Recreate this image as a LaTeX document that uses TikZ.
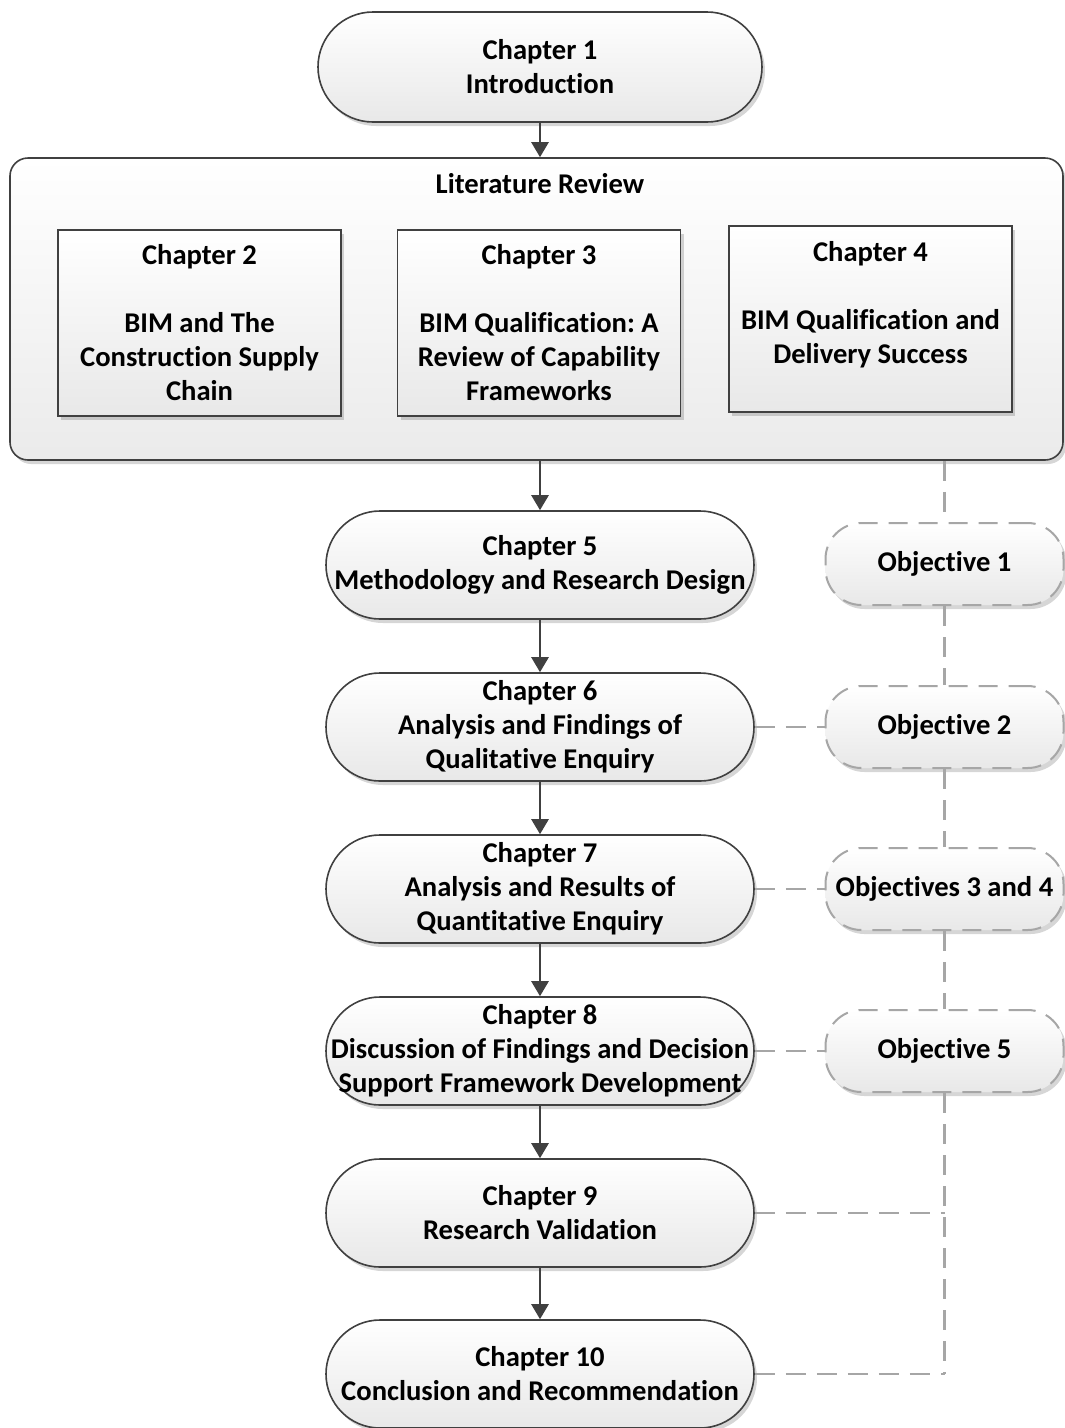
\documentclass[tikz,border=0pt]{standalone}
\usepackage{fontspec}
\setmainfont{Carlito}[Ligatures=NoCommon]
\usetikzlibrary{arrows.meta,shadows}
\definecolor{edge}{HTML}{404040}
\definecolor{dashgray}{HTML}{A6A6A6}
\frenchspacing
\begin{document}
\begin{tikzpicture}[x=1pt,y=-1pt,
  every node/.style={font=\fontsize{28.6}{34}\selectfont\bfseries, align=center, inner sep=0pt},
  softshadow/.style={drop shadow={shadow xshift=3pt, shadow yshift=-4pt, fill=black, opacity=0.16}},
  shade/.style={top color=white, bottom color=black!9},
  chap/.style={draw=edge, line width=1.6pt, rounded corners=54pt, minimum width=428pt,
    minimum height=108pt, shade, softshadow},
  litbox/.style={draw=edge, line width=1.6pt, minimum width=283pt, minimum height=186pt,
    shade, softshadow},
  objbox/.style={draw=dashgray, line width=2pt, dash pattern=on 19pt off 11pt,
    rounded corners=36pt, minimum width=238pt, minimum height=82pt, shade, softshadow},
  flow/.style={draw=edge, line width=2.6pt, -{Triangle[width=17pt,length=15pt]}},
  link/.style={draw=dashgray, line width=2.2pt, dash pattern=on 20pt off 11pt}
]
\useasboundingbox[fill=white] (0,0) rectangle (1065,1428);

% literature review group
\node[draw=edge, line width=1.6pt, rounded corners=18pt, minimum width=1053pt,
  minimum height=302pt, top color=white, bottom color=black!8, softshadow]
  (lit) at (536.5,309) {};
\node (littitle) at (540,184) {Literature Review};
\node[litbox] (ch2) at (199.5,323)
  {Chapter 2\\[34pt]BIM and The\\Construction Supply\\Chain};
\node[litbox] (ch3) at (539,323)
  {Chapter 3\\[34pt]BIM Qualification: A\\Review of Capability\\Frameworks};
\node[litbox] (ch4) at (870.5,319)
  {Chapter 4\\[34pt]BIM Qualification and\\Delivery Success\\ \mbox{}};

% chapter flow
\node[chap, minimum width=444pt, minimum height=110pt, rounded corners=55pt] (ch1) at (540,67)
  {Chapter 1\\Introduction};
\node[chap] (ch5) at (540,565) {Chapter 5\\Methodology and Research Design};
\node[chap] (ch6) at (540,727) {Chapter 6\\Analysis and Findings of\\Qualitative Enquiry};
\node[chap] (ch7) at (540,889) {Chapter 7\\Analysis and Results of\\Quantitative Enquiry};
\node[chap] (ch8) at (540,1051) {Chapter 8\\Discussion of Findings and Decision\\Support Framework Development};
\node[chap] (ch9) at (540,1213) {Chapter 9\\Research Validation};
\node[chap] (ch10) at (540,1374) {Chapter 10\\Conclusion and Recommendation};

% objectives
\node[objbox] (ob1) at (944.5,564) {Objective 1};
\node[objbox] (ob2) at (944.5,727) {Objective 2};
\node[objbox] (ob34) at (944.5,889) {Objectives 3 and 4};
\node[objbox] (ob5) at (944.5,1051) {Objective 5};

% solid arrows
\draw[flow] (ch1.south) -- (ch1.south |- lit.north);
\draw[flow] (ch1.south |- lit.south) -- (ch5.north);
\draw[flow] (ch5) -- (ch6);
\draw[flow] (ch6) -- (ch7);
\draw[flow] (ch7) -- (ch8);
\draw[flow] (ch8) -- (ch9);
\draw[flow] (ch9) -- (ch10);

% dashed links to objectives
\coordinate (c9) at (ob5.south |- ch9.east);
\coordinate (c10) at (ob5.south |- ch10.east);
\draw[link] (ob1.north |- lit.south) -- (ob1.north);
\draw[link] (ob1) -- (ob2);
\draw[link] (ob2) -- (ob34);
\draw[link] (ob34) -- (ob5);
\draw[link] (ob5.south) -- (c10);
\draw[link] (ch6.east) -- (ob2.west);
\draw[link] (ch7.east) -- (ob34.west);
\draw[link] (ch8.east) -- (ob5.west);
\draw[link] (ch9.east) -- (c9);
\draw[link] (ch10.east) -- (c10);
\end{tikzpicture}
\end{document}
